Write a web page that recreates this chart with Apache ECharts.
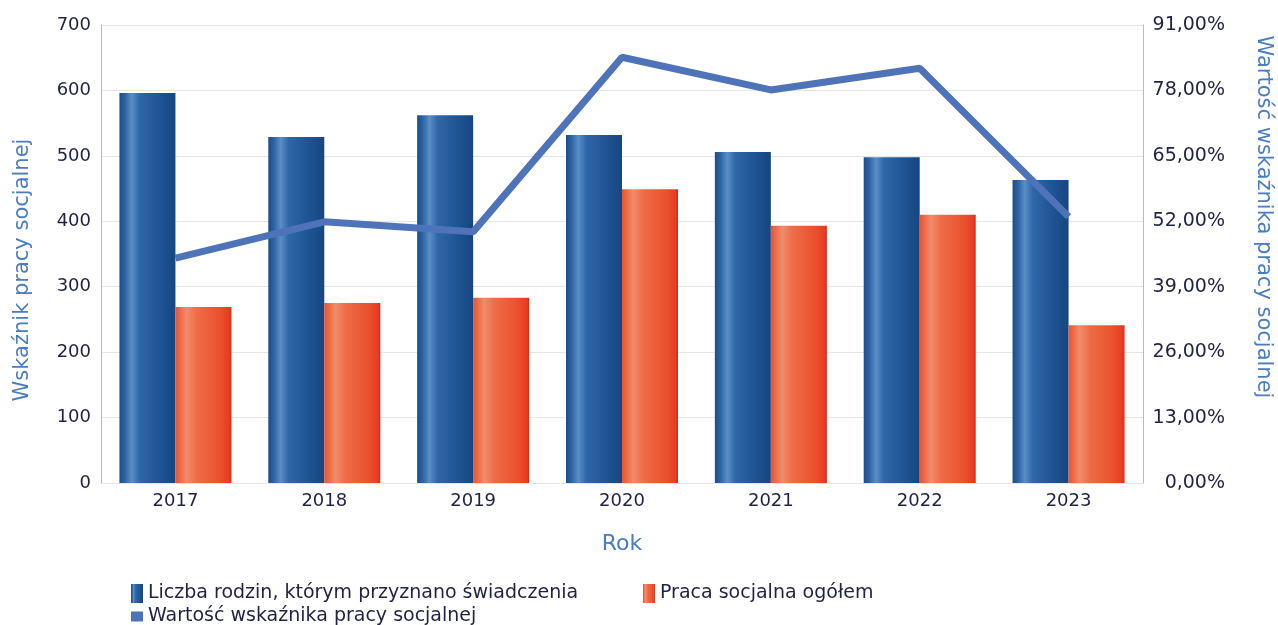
<!DOCTYPE html>
<html>
<head>
<meta charset="utf-8">
<script src="https://cdn.jsdelivr.net/npm/echarts@6/dist/echarts.min.js"></script>
<style>
  html, body { margin: 0; padding: 0; background: #ffffff; }
  #chart { width: 1278px; height: 625px; }
</style>
</head>
<body>
<div id="chart"></div>
<script>
// Lata
const years = ['2017', '2018', '2019', '2020', '2021', '2022', '2023'];
// Liczba rodzin, którym przyznano świadczenia
const families = [596, 529, 562, 532, 506, 498, 463];
// Praca socjalna ogółem
const socialWork = [269, 275, 283, 449, 393, 410, 241];
// Wartość wskaźnika pracy socjalnej (%)
const indicator = [44.7, 51.9, 49.9, 84.6, 78.1, 82.4, 52.9];

const FONT = '"DejaVu Sans", "Noto Sans", sans-serif';
const TEXT = '#1f2244';
const NAME = '#4a7cc0';

const blueFill = new echarts.graphic.LinearGradient(0, 0, 1, 0, [
  { offset: 0, color: '#1b4c88' },
  { offset: 0.1, color: '#2d64a4' },
  { offset: 0.22, color: '#5a8ec6' },
  { offset: 0.36, color: '#2f67a8' },
  { offset: 0.7, color: '#1f5593' },
  { offset: 1, color: '#164682' }
]);
const redFill = new echarts.graphic.LinearGradient(0, 0, 1, 0, [
  { offset: 0, color: '#e8532f' },
  { offset: 0.2, color: '#f28c6a' },
  { offset: 0.38, color: '#ee6c48' },
  { offset: 0.8, color: '#e9512c' },
  { offset: 0.96, color: '#e73c22' },
  { offset: 1, color: '#e2201a' }
]);

const legendText = { fontFamily: FONT, fontSize: 19, color: TEXT };

const chart = echarts.init(document.getElementById('chart'), null, { renderer: 'canvas' });

chart.setOption({
  animation: false,
  textStyle: { fontFamily: FONT },
  grid: { left: 101, right: 135, top: 25, bottom: 142, containLabel: false, outerBoundsMode: 'none' },
  legend: [
    {
      left: 126, top: 579,
      itemWidth: 12, itemHeight: 19,
      icon: 'rect',
      textStyle: legendText,
      data: ['Liczba rodzin, którym przyznano świadczenia']
    },
    {
      left: 638, top: 579,
      itemWidth: 12, itemHeight: 19,
      icon: 'rect',
      textStyle: legendText,
      data: ['Praca socjalna ogółem']
    },
    {
      left: 126, top: 602,
      itemWidth: 12, itemHeight: 10,
      icon: 'rect',
      textStyle: legendText,
      data: ['Wartość wskaźnika pracy socjalnej']
    }
  ],
  xAxis: {
    type: 'category',
    data: years,
    name: 'Rok',
    nameLocation: 'middle',
    nameGap: 50,
    nameTextStyle: { fontFamily: FONT, fontSize: 22, color: NAME },
    axisLine: { show: true, lineStyle: { color: '#e4e6ea', width: 1 } },
    axisTick: { show: false },
    axisLabel: { margin: 9, fontFamily: FONT, fontSize: 18, color: TEXT }
  },
  yAxis: [
    {
      type: 'value',
      min: 0, max: 700, interval: 100,
      name: 'Wskaźnik pracy socjalnej',
      nameLocation: 'middle',
      nameGap: 68,
      nameRotate: 90,
      nameTextStyle: { fontFamily: FONT, fontSize: 21, color: NAME, padding: [0, 32, 0, 0] },
      axisLine: { show: true, lineStyle: { color: '#aab6d2', width: 1 } },
      axisTick: { show: false },
      axisLabel: { margin: 10, fontFamily: FONT, fontSize: 18, color: TEXT },
      splitLine: { show: true, lineStyle: { color: '#e6e6e6', width: 1 } }
    },
    {
      type: 'value',
      min: 0, max: 91, interval: 13,
      name: 'Wartość wskaźnika pracy socjalnej',
      nameLocation: 'middle',
      nameGap: 110,
      nameRotate: -90,
      nameTextStyle: { fontFamily: FONT, fontSize: 21, color: NAME, padding: [0, 74, 0, 0] },
      axisLine: { show: true, lineStyle: { color: '#a9c0e2', width: 1 } },
      axisTick: { show: false },
      axisLabel: {
        margin: 82, align: 'right', fontFamily: FONT, fontSize: 19, color: TEXT,
        formatter: v => v.toFixed(2).replace('.', ',') + '%'
      },
      splitLine: { show: false }
    }
  ],
  series: [
    {
      name: 'Liczba rodzin, którym przyznano świadczenia',
      type: 'bar',
      data: families,
      barWidth: 56,
      barGap: '0%',
      itemStyle: { color: blueFill }
    },
    {
      name: 'Praca socjalna ogółem',
      type: 'bar',
      data: socialWork,
      barWidth: 56,
      itemStyle: { color: redFill }
    },
    {
      name: 'Wartość wskaźnika pracy socjalnej',
      type: 'line',
      yAxisIndex: 1,
      data: indicator,
      showSymbol: false,
      symbol: 'none',
      z: 5,
      lineStyle: { color: '#4f73b9', width: 7 },
      itemStyle: { color: '#4f73b9' }
    }
  ]
});
</script>
</body>
</html>
